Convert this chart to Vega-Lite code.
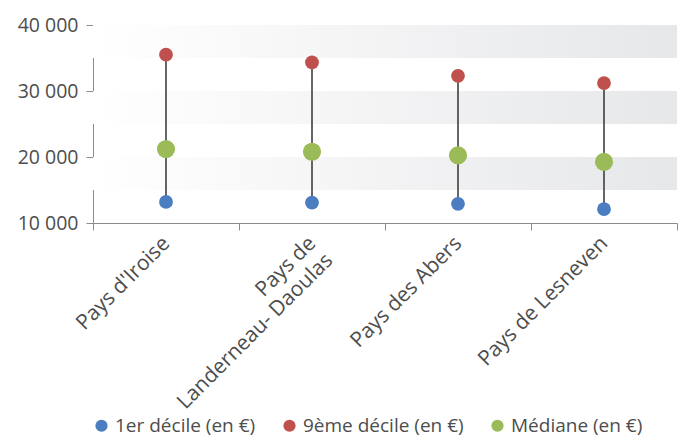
{
  "$schema": "https://vega.github.io/schema/vega-lite/v6.json",
  "width": 584,
  "height": 198,
  "autosize": "none",
  "padding": {"left": 93, "top": 25, "right": 3, "bottom": 216},
  "background": "white",
  "datasets": {
    "bands": [
      {"bas": 15000, "haut": 20000},
      {"bas": 25000, "haut": 30000},
      {"bas": 35000, "haut": 40000}
    ],
    "revenus": [
      {"zone": "Pays d'Iroise", "serie": "1er décile (en €)", "valeur": 13200},
      {"zone": "Pays d'Iroise", "serie": "9ème décile (en €)", "valeur": 35500},
      {"zone": "Pays d'Iroise", "serie": "Médiane (en €)", "valeur": 21200},
      {"zone": "Pays de Landerneau- Daoulas", "serie": "1er décile (en €)", "valeur": 13100},
      {"zone": "Pays de Landerneau- Daoulas", "serie": "9ème décile (en €)", "valeur": 34350},
      {"zone": "Pays de Landerneau- Daoulas", "serie": "Médiane (en €)", "valeur": 20800},
      {"zone": "Pays des Abers", "serie": "1er décile (en €)", "valeur": 12900},
      {"zone": "Pays des Abers", "serie": "9ème décile (en €)", "valeur": 32300},
      {"zone": "Pays des Abers", "serie": "Médiane (en €)", "valeur": 20250},
      {"zone": "Pays de Lesneven", "serie": "1er décile (en €)", "valeur": 12100},
      {"zone": "Pays de Lesneven", "serie": "9ème décile (en €)", "valeur": 31200},
      {"zone": "Pays de Lesneven", "serie": "Médiane (en €)", "valeur": 19250}
    ]
  },
  "config": {
    "font": "Open Sans",
    "view": {"stroke": null},
    "axis": {"labelFont": "Open Sans", "labelColor": "#4d4d4d", "domainColor": "#8c8c8c", "tickColor": "#8c8c8c", "grid": false, "title": null}
  },
  "layer": [
    {
      "data": {"name": "bands"},
      "mark": {
        "type": "rect",
        "color": {
          "gradient": "linear", "x1": 0, "x2": 1, "y1": 0, "y2": 0,
          "stops": [{"offset": 0, "color": "#ffffff"}, {"offset": 1, "color": "#e6e7e9"}]
        }
      },
      "encoding": {
        "y": {"field": "bas", "type": "quantitative", "scale": {"domain": [10000, 40000], "nice": false}},
        "y2": {"field": "haut"}
      }
    },
    {
      "data": {"name": "revenus"},
      "mark": {"type": "rule", "color": "#333333", "strokeWidth": 1.5},
      "encoding": {
        "x": {"field": "zone", "type": "nominal", "sort": null},
        "y": {"aggregate": "min", "field": "valeur", "type": "quantitative"},
        "y2": {"aggregate": "max", "field": "valeur"}
      }
    },
    {
      "data": {"name": "revenus"},
      "mark": {"type": "circle", "opacity": 1},
      "encoding": {
        "x": {
          "field": "zone", "type": "nominal", "sort": null,
          "axis": {
            "labelAngle": -45, "labelAlign": "right", "labelBaseline": "middle",
            "labelFontSize": 21, "labelPadding": 10, "tickBand": "extent", "tickSize": 7,
            "labelLineHeight": 24, "labelLimit": 400,
            "labelExpr": "datum.label == 'Pays de Landerneau- Daoulas' ? ['Pays de', 'Landerneau- Daoulas'] : datum.label"
          }
        },
        "y": {
          "field": "valeur", "type": "quantitative",
          "scale": {"domain": [10000, 40000], "nice": false},
          "axis": {
            "values": [10000, 15000, 20000, 25000, 30000, 35000, 40000],
            "labelExpr": "datum.value % 10000 == 0 ? replace(format(datum.value, ','), ',', ' ') : ''",
            "labelFontSize": 19.5, "tickSize": 7, "labelPadding": 8
          }
        },
        "color": {
          "field": "serie", "type": "nominal",
          "scale": {"domain": ["1er décile (en €)", "9ème décile (en €)", "Médiane (en €)"], "range": ["#4a7ec0", "#c0504d", "#9bbb59"]},
          "legend": {
            "title": null, "orient": "none", "direction": "horizontal",
            "legendX": -1, "legendY": 391, "labelLimit": 400,
            "labelFontSize": 19, "labelColor": "#4d4d4d", "labelFont": "Open Sans",
            "columnPadding": 24, "labelOffset": 4, "symbolSize": 150
          }
        },
        "size": {
          "condition": {"test": "datum.serie == 'Médiane (en €)'", "value": 330},
          "value": 190
        }
      }
    }
  ]
}
